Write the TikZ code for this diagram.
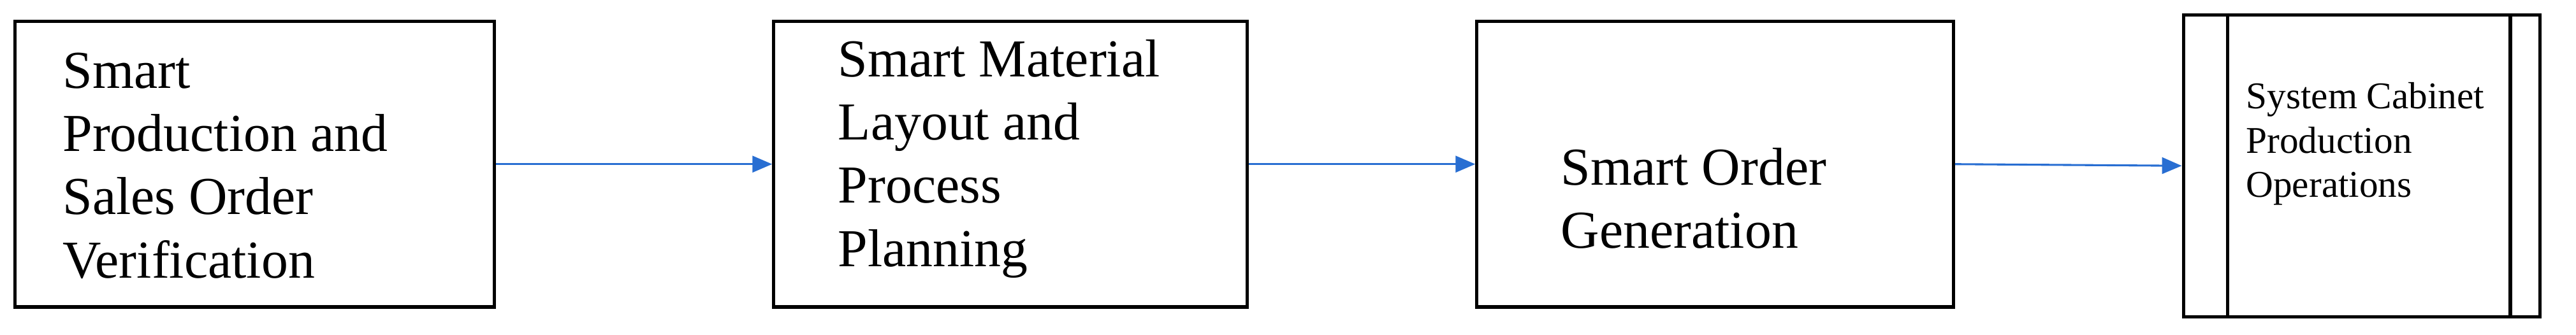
\documentclass[tikz,border=0pt]{standalone}
\usepackage{fontspec}
\setmainfont{Liberation Serif}
\usetikzlibrary{arrows.meta}
\definecolor{arrblue}{RGB}{40,110,210}
\begin{document}
\begin{tikzpicture}[x=1pt,y=-1pt,
  box/.style={draw,line width=2pt},
  txt/.style={anchor=north west,align=left,inner sep=0pt,font=\fontsize{32.5}{38.5}\selectfont},
  arr/.style={draw=arrblue,line width=1.2pt,-{Triangle[length=12pt,width=10pt]}}]
\useasboundingbox (0,0) rectangle (1568,204);
\node[box,minimum width=292pt,minimum height=174pt,anchor=north west] (b1) at (8,12) {};
\node[box,minimum width=288pt,minimum height=174pt,anchor=north west] (b2) at (470,12) {};
\node[box,minimum width=290pt,minimum height=174pt,anchor=north west] (b3) at (898,12) {};
\node[box,minimum width=217pt,minimum height=184pt,anchor=north west] (b4) at (1328,8) {};
\draw[line width=2pt] (1356,8) -- (1356,192);
\draw[line width=2pt] (1528,8) -- (1528,192);
\node[txt] (t1) at (38,32) {Smart\\Production and\\Sales Order\\Verification};
\node[txt] (t2) at (510,24) {Smart Material\\Layout and\\Process\\Planning};
\node[txt] (t3) at (950,90) {Smart Order\\Generation};
\node[txt,font=\fontsize{23}{27}\selectfont] (t4) at (1367,50) {System Cabinet\\Production\\Operations};
\draw[arr] (b1.east|-0,100) -- (b2.west|-0,100);
\draw[arr] (b2.east|-0,100) -- (b3.west|-0,100);
\draw[arr] (b3.east|-0,100) -- (b4.west|-0,101);
\end{tikzpicture}
\end{document}
